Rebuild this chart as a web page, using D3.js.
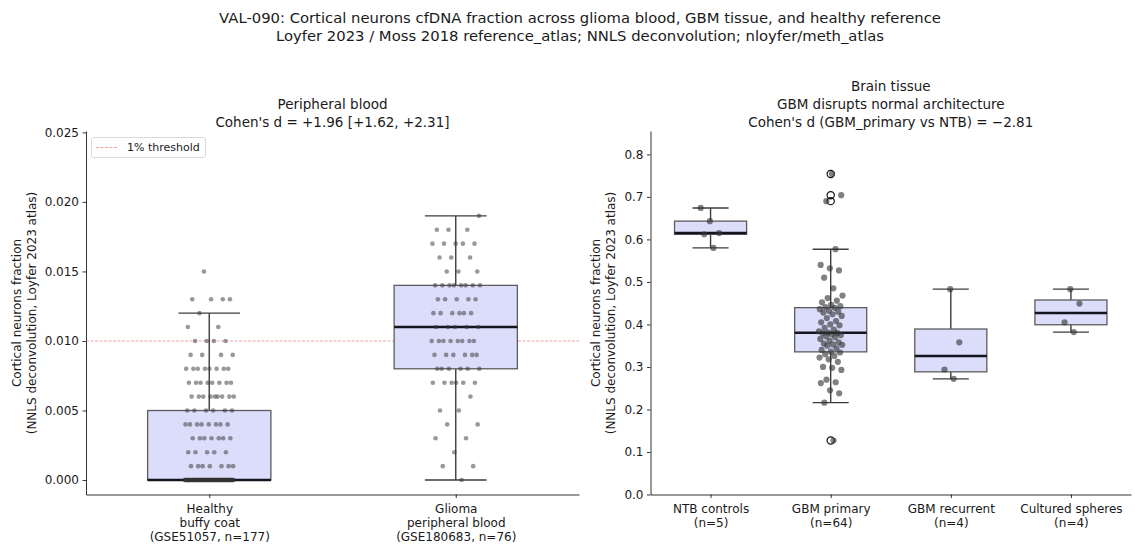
<!DOCTYPE html>
<html>
<head>
<meta charset="utf-8">
<script src="https://cdn.jsdelivr.net/npm/d3@7"></script>
<style>
  body { margin: 0; background: #fff; }
  svg { font-family: "DejaVu Sans", sans-serif; }
</style>
</head>
<body>
<svg id="chart" width="1135" height="545"></svg>
<script>
const suptitle = [
  'VAL-090: Cortical neurons cfDNA fraction across glioma blood, GBM tissue, and healthy reference',
  'Loyfer 2023 / Moss 2018 reference_atlas; NNLS deconvolution; nloyfer/meth_atlas'
];

// left panel: fractions come in steps of 0.001, stored as level + count
const bloodLevels = [0.000, 0.001, 0.002, 0.003, 0.004, 0.005, 0.006, 0.007, 0.008, 0.009,
  0.010, 0.011, 0.012, 0.013, 0.014, 0.015, 0.016, 0.017, 0.018, 0.019];
const healthyCounts = [103, 7, 5, 7, 8, 6, 9, 8, 8, 4, 4, 2, 1, 4, 0, 1, 0, 0, 0, 0];
const gliomaCounts = [1, 2, 1, 2, 2, 2, 1, 6, 6, 6, 8, 5, 6, 5, 8, 3, 3, 5, 3, 1];
const bloodLabels = [
  ['Healthy', 'buffy coat', '(GSE51057, n=177)'],
  ['Glioma', 'peripheral blood', '(GSE180683, n=76)']
];
const bloodTicks = [0, 0.005, 0.010, 0.015, 0.020, 0.025];
const bloodTitle = ['Peripheral blood', "Cohen's d = +1.96 [+1.62, +2.31]"];
const threshold = 0.01;

// right panel
const tissueLabels = [
  ['NTB controls', '(n=5)'],
  ['GBM primary', '(n=64)'],
  ['GBM recurrent', '(n=4)'],
  ['Cultured spheres', '(n=4)']
];
const ntbValues = [0.580, 0.612, 0.615, 0.643, 0.674];
const gbmPrimaryValues = [0.127, 0.216, 0.238, 0.245, 0.262, 0.264, 0.270, 0.293, 0.298, 0.300,
  0.312, 0.318, 0.322, 0.326, 0.330, 0.334, 0.336, 0.340, 0.344, 0.350,
  0.352, 0.353, 0.355, 0.358, 0.362, 0.366, 0.370, 0.372, 0.375, 0.377,
  0.379, 0.380, 0.381, 0.384, 0.388, 0.392, 0.398, 0.400, 0.405, 0.408,
  0.415, 0.420, 0.424, 0.428, 0.430, 0.432, 0.436, 0.439, 0.441, 0.443,
  0.446, 0.452, 0.456, 0.462, 0.468, 0.485, 0.510, 0.527, 0.532, 0.540,
  0.577, 0.690, 0.704, 0.754];
const gbmRecurrentValues = [0.272, 0.294, 0.358, 0.483];
const sphereValues = [0.382, 0.405, 0.449, 0.483];
const tissueTicks = [0, 0.1, 0.2, 0.3, 0.4, 0.5, 0.6, 0.7, 0.8];
const tissueTitle = ['Brain tissue', 'GBM disrupts normal architecture',
  "Cohen's d (GBM_primary vs NTB) = \u22122.81"];
const yLabel = ['Cortical neurons fraction', '(NNLS deconvolution, Loyfer 2023 atlas)'];

const expand = (levels, counts) => levels.flatMap((v, i) => d3.range(counts[i]).map(() => v));

const svg = d3.select('#chart');

svg.append('g').selectAll('text')
  .data(suptitle)
  .join('text')
  .attr('x', 580)
  .attr('y', (d, i) => 22.5 + i * 18)
  .attr('text-anchor', 'middle')
  .attr('font-size', 14.8)
  .attr('fill', '#1a1a1a')
  .text(d => d);

// golden-ratio spread so the strip looks like seaborn jitter without randomness
const jitter = i => (((i + 1) * 0.6180339887) % 1 - 0.5) * 0.2;

function boxStats(values) {
  const s = values.slice().sort(d3.ascending);
  const q1 = d3.quantile(s, 0.25), med = d3.quantile(s, 0.5), q3 = d3.quantile(s, 0.75);
  const iqr = q3 - q1;
  const inside = s.filter(v => v >= q1 - 1.5 * iqr && v <= q3 + 1.5 * iqr);
  return {
    q1, med, q3,
    lo: d3.min(inside), hi: d3.max(inside),
    fliers: s.filter(v => v < q1 - 1.5 * iqr || v > q3 + 1.5 * iqr)
  };
}

function drawPanel(p) {
  const g = svg.append('g');
  const x = d3.scaleLinear().domain([-0.5, p.groups.length - 0.5]).range(p.xRange);
  const y = d3.scaleLinear().domain(p.yDomain).range([494.5, 131]);

  // y axis
  const ya = g.append('g')
    .attr('transform', `translate(${p.xRange[0]},0)`)
    .call(d3.axisLeft(y).tickValues(p.ticks).tickFormat(p.fmt).tickSize(3.5).tickPadding(3.5).tickSizeOuter(0));
  ya.select('.domain').attr('stroke', '#000').attr('stroke-width', 0.8);
  ya.selectAll('.tick line').attr('stroke', '#000').attr('stroke-width', 0.8);
  ya.selectAll('.tick text').attr('font-size', 12).attr('fill', '#1a1a1a').attr('font-family', 'DejaVu Sans');

  // x axis
  const xa = g.append('g')
    .attr('transform', 'translate(0,494.5)')
    .call(d3.axisBottom(x).tickValues(d3.range(p.groups.length)).tickFormat('').tickSize(3.5).tickSizeOuter(0));
  xa.select('.domain').attr('stroke', '#000').attr('stroke-width', 0.8);
  xa.selectAll('.tick line').attr('stroke', '#000').attr('stroke-width', 0.8);
  xa.selectAll('.tick').append('text')
    .attr('text-anchor', 'middle')
    .attr('font-size', 12)
    .attr('fill', '#1a1a1a')
    .attr('font-family', 'DejaVu Sans')
    .selectAll('tspan')
    .data((d, i) => p.labels[i])
    .join('tspan')
    .attr('x', 0)
    .attr('y', (d, i) => 18.5 + i * 14)
    .text(d => d);

  // y label
  g.append('g').selectAll('text')
    .data(yLabel)
    .join('text')
    .attr('transform', (d, i) => `translate(${p.yLabelX + i * 15.5},313) rotate(-90)`)
    .attr('text-anchor', 'middle')
    .attr('dominant-baseline', 'middle')
    .attr('font-size', 12)
    .attr('fill', '#1a1a1a')
    .text(d => d);

  // title
  const tx = (p.xRange[0] + p.xRange[1]) / 2;
  g.append('g').selectAll('text')
    .data(p.title)
    .join('text')
    .attr('x', tx)
    .attr('y', (d, i) => 126.5 - (p.title.length - 1 - i) * 17.8)
    .attr('text-anchor', 'middle')
    .attr('font-size', 13.5)
    .attr('fill', '#1a1a1a')
    .text(d => d);

  if (p.threshold !== undefined) {
    g.append('line')
      .attr('x1', p.xRange[0]).attr('x2', p.xRange[1])
      .attr('y1', y(p.threshold)).attr('y2', y(p.threshold))
      .attr('stroke', '#e07070').attr('stroke-opacity', 0.7)
      .attr('stroke-width', 0.9).attr('stroke-dasharray', '3,1.5');
  }

  const unit = x(1) - x(0);
  const bw = p.boxWidth * unit, cw = bw / 2;

  p.groups.forEach((vals, gi) => {
    const st = boxStats(vals);
    const cx = x(gi);
    const bg = g.append('g');
    bg.append('line').attr('x1', cx).attr('x2', cx).attr('y1', y(st.q3)).attr('y2', y(st.hi))
      .attr('stroke', '#3d3d3d').attr('stroke-width', 1.4);
    bg.append('line').attr('x1', cx).attr('x2', cx).attr('y1', y(st.q1)).attr('y2', y(st.lo))
      .attr('stroke', '#3d3d3d').attr('stroke-width', 1.4);
    [st.hi, st.lo].forEach(v => {
      bg.append('line').attr('x1', cx - cw / 2).attr('x2', cx + cw / 2).attr('y1', y(v)).attr('y2', y(v))
        .attr('stroke', '#3d3d3d').attr('stroke-width', 1.4);
    });
    bg.append('rect')
      .attr('x', cx - bw / 2).attr('y', y(st.q3))
      .attr('width', bw).attr('height', Math.max(0, y(st.q1) - y(st.q3)))
      .attr('fill', '#dcdcfb').attr('stroke', '#5c5c5c').attr('stroke-width', 1.3);
    bg.append('line').attr('x1', cx - bw / 2).attr('x2', cx + bw / 2).attr('y1', y(st.med)).attr('y2', y(st.med))
      .attr('stroke', '#151520').attr('stroke-width', 2.5);
    if (p.fliers) {
      bg.selectAll('circle.flier')
        .data(st.fliers)
        .join('circle')
        .attr('class', 'flier')
        .attr('cx', cx).attr('cy', d => y(d)).attr('r', 3.6)
        .attr('fill', 'none').attr('stroke', '#111').attr('stroke-width', 1.2);
    }
    g.append('g').selectAll('circle')
      .data(vals)
      .join('circle')
      .attr('cx', (d, i) => x(gi + jitter(i)))
      .attr('cy', d => y(d))
      .attr('r', p.r)
      .attr('fill', '#333')
      .attr('fill-opacity', p.opacity);
  });
  return g;
}

const left = drawPanel({
  groups: [expand(bloodLevels, healthyCounts), expand(bloodLevels, gliomaCounts)],
  labels: bloodLabels,
  xRange: [86, 579],
  yDomain: [-0.00104, 0.0251],
  ticks: bloodTicks,
  fmt: d3.format('.3f'),
  boxWidth: 0.5,
  r: 2.3,
  opacity: 0.5,
  fliers: false,
  threshold: threshold,
  title: bloodTitle,
  yLabelX: 17
});

// legend
const lg = left.append('g');
lg.append('rect')
  .attr('x', 91.5).attr('y', 137.5).attr('width', 114).attr('height', 20).attr('rx', 2.5)
  .attr('fill', '#fff').attr('fill-opacity', 0.8).attr('stroke', '#d0d0d0').attr('stroke-width', 0.8);
lg.append('line')
  .attr('x1', 96).attr('x2', 118).attr('y1', 147.5).attr('y2', 147.5)
  .attr('stroke', '#e07070').attr('stroke-opacity', 0.7)
  .attr('stroke-width', 0.9).attr('stroke-dasharray', '3,1.5');
lg.append('text')
  .attr('x', 127).attr('y', 147.5)
  .attr('dominant-baseline', 'middle')
  .attr('font-size', 11).attr('fill', '#1a1a1a')
  .text('1% threshold');

drawPanel({
  groups: [ntbValues, gbmPrimaryValues, gbmRecurrentValues, sphereValues],
  labels: tissueLabels,
  xRange: [650.5, 1131],
  yDomain: [0, 0.855],
  ticks: tissueTicks,
  fmt: d3.format('.1f'),
  boxWidth: 0.6,
  r: 3.1,
  opacity: 0.62,
  fliers: true,
  title: tissueTitle,
  yLabelX: 596
});
</script>
</body>
</html>
